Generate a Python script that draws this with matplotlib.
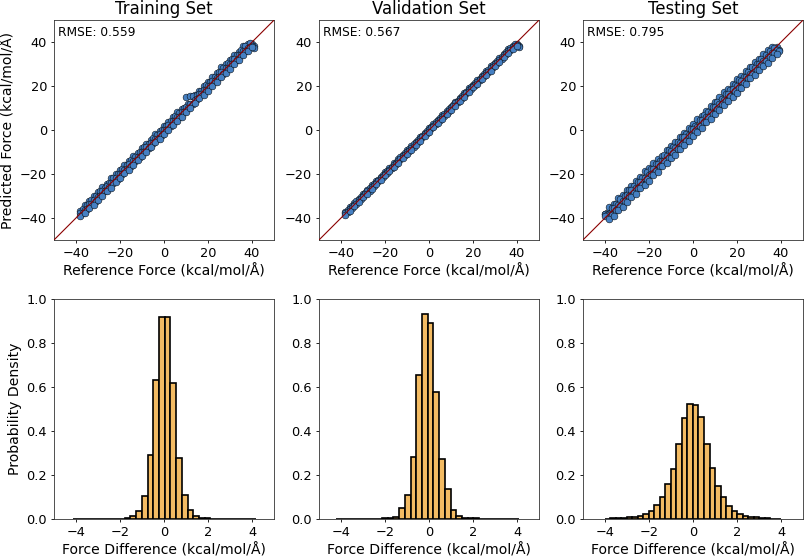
import numpy as np
import matplotlib
matplotlib.use("Agg")
import matplotlib.pyplot as plt

titles = ["Training Set", "Validation Set", "Testing Set"]
rmse = [0.559, 0.567, 0.795]

# reference forces (kcal/mol/A), even and odd grid
ref_even = [-38, -36, -34, -32, -30, -28, -26, -24, -22, -20,
            -18, -16, -14, -12, -10, -8, -6, -4, -2, 0,
            2, 4, 6, 8, 10, 12, 14, 16, 18, 20,
            22, 24, 26, 28, 30, 32, 34, 36, 38, 40]
ref_odd = [-37, -35, -33, -31, -29, -27, -25, -23, -21, -19,
           -17, -15, -13, -11, -9, -7, -5, -3, -1, 1,
           3, 5, 7, 9, 11, 13, 15, 17, 19, 21,
           23, 25, 27, 29, 31, 33, 35, 37, 39, 41]
test_even = [-40, -38, -36, -34, -32, -30, -28, -26, -24, -22,
             -20, -18, -16, -14, -12, -10, -8, -6, -4, -2,
             0, 2, 4, 6, 8, 10, 12, 14, 16, 18,
             20, 22, 24, 26, 28, 30, 32, 34, 36, 38]
test_odd = [-39, -37, -35, -33, -31, -29, -27, -25, -23, -21,
            -19, -17, -15, -13, -11, -9, -7, -5, -3, -1,
            1, 3, 5, 7, 9, 11, 13, 15, 17, 19,
            21, 23, 25, 27, 29, 31, 33, 35, 37, 39]

# residuals (predicted - reference)
train_e_hi = [1.2, 1.9, 1.5, 2.1, 1.7, 2.0, 1.4, 2.2, 1.8, 1.6,
              2.0, 1.7, 2.1, 1.5, 1.9, 1.8, 1.6, 2.0, 1.7, 1.9,
              1.5, 1.8, 2.1, 1.6, 4.8, 3.4, 2.0, 1.7, 2.2, 1.9,
              2.3, 2.0, 2.6, 2.1, 1.8, 2.2, 1.7, 2.0, 1.2, -0.8]
train_e_mid = [0.3, -0.2, 0.4, 0.1, -0.3, 0.2, 0.5, -0.1, 0.3, 0.0,
               -0.2, 0.4, 0.1, -0.3, 0.2, 0.3, -0.1, 0.0, 0.4, -0.2,
               0.1, 0.3, -0.2, 0.2, 0.5, 0.0, -0.3, 0.2, 0.4, 0.1,
               0.3, -0.2, 0.5, 0.1, -0.1, 0.3, 0.0, -0.2, -0.6, -1.6]
train_e_lo = [-1.3, -1.9, -1.5, -2.1, -1.7, -2.0, -1.6, -2.2, -1.8, -2.0,
              -1.7, -2.1, -1.8, -1.5, -2.0, -2.2, -1.8, -1.6, -2.1, -1.9,
              -1.8, -1.6, -2.0, -2.3, -1.7, -2.1, -1.9, -1.6, -2.0, -2.2,
              -1.8, -2.1, -1.7, -2.0, -2.3, -1.8, -2.1, -1.9, -2.2, -2.3]
train_o_hi = [1.0, 0.8, 1.2, 0.9, 1.1, 0.7, 1.0, 1.3, 0.8, 1.1,
              0.9, 1.2, 0.8, 1.0, 1.1, 0.7, 1.2, 0.9, 1.0, 0.8,
              1.1, 1.3, 0.9, 1.2, 1.0, 2.6, 1.1, 0.9, 1.3, 1.0,
              1.2, 1.4, 1.0, 1.3, 1.1, 0.9, 1.2, 1.0, 0.6, -3.0]
train_o_lo = [-0.9, -1.1, -0.8, -1.2, -1.0, -0.7, -1.1, -0.9, -1.3, -1.0,
              -0.8, -1.2, -0.9, -1.1, -1.0, -1.3, -0.8, -1.0, -1.2, -0.9,
              -1.1, -0.8, -1.2, -1.0, -0.9, -1.3, -1.1, -0.8, -1.0, -1.2,
              -0.9, -1.1, -1.3, -1.0, -0.8, -1.2, -1.0, -1.1, -1.4, -3.5]

val_e_hi = [0.7, 0.9, 0.6, 0.8, 1.0, 0.7, 0.9, 0.8, 0.6, 0.9,
            0.7, 0.8, 1.0, 0.6, 0.8, 0.9, 0.7, 0.8, 0.6, 0.9,
            0.8, 0.7, 1.0, 0.8, 0.6, 0.9, 0.7, 0.8, 1.0, 0.7,
            0.9, 0.6, 0.8, 0.9, 0.7, 0.8, 0.6, 0.7, 0.3, -0.8]
val_e_mid = [0.1, -0.1, 0.0, 0.2, -0.1, 0.1, 0.0, -0.2, 0.1, 0.0,
             -0.1, 0.1, 0.0, 0.1, -0.1, 0.0, 0.2, -0.1, 0.0, 0.1,
             -0.1, 0.0, 0.1, -0.1, 0.0, 0.2, -0.1, 0.0, 0.1, -0.1,
             0.0, 0.1, -0.1, 0.0, 0.1, -0.1, 0.0, -0.2, -0.4, -1.4]
val_e_lo = [-0.6, -0.8, -0.7, -0.9, -0.6, -1.3, -0.8, -0.7, -0.9, -0.6,
            -0.8, -0.7, -0.9, -0.6, -0.8, -1.0, -0.7, -0.8, -0.6, -0.9,
            -0.7, -0.8, -0.9, -0.6, -0.8, -1.0, -0.7, -0.9, -0.8, -0.6,
            -0.9, -0.7, -0.8, -1.0, -0.7, -0.9, -0.8, -1.0, -1.1, -1.9]
val_o_hi = [0.4, 0.3, 0.5, 0.4, 0.2, 0.5, 0.3, 0.4, 0.5, 0.3,
            0.4, 0.2, 0.5, 0.4, 0.3, 0.5, 0.4, 0.2, 0.4, 0.3,
            0.5, 0.4, 0.3, 0.5, 0.2, 0.4, 0.3, 0.5, 0.4, 0.3,
            0.4, 0.5, 0.3, 0.4, 0.2, 0.4, 0.3, 0.2, 0.0, -2.8]
val_o_lo = [-0.4, -0.3, -0.5, -0.4, -0.3, -0.6, -0.4, -0.3, -0.5, -0.4,
            -0.3, -0.5, -0.4, -0.2, -0.4, -0.5, -0.3, -0.4, -0.5, -0.3,
            -0.4, -0.3, -0.5, -0.4, -0.3, -0.4, -0.5, -0.3, -0.4, -0.5,
            -0.3, -0.4, -0.5, -0.3, -0.4, -0.5, -0.4, -0.5, -0.7, -3.2]

test_e_hi = [2.0, 2.8, 2.5, 3.1, 2.6, 2.9, 2.4, 3.0, 2.7, 3.2,
             2.5, 2.9, 2.7, 2.4, 3.1, 2.8, 2.6, 3.0, 2.5, 2.9,
             2.7, 3.1, 2.4, 2.8, 3.0, 2.6, 2.9, 3.2, 2.5, 2.8,
             3.1, 2.7, 3.0, 2.6, 2.9, 2.5, 2.8, 2.4, 1.8, -0.2]
test_e_mid = [1.6, -0.3, 0.6, 0.1, -0.4, 0.3, 0.7, -0.2, 0.4, 0.0,
              -0.5, 0.3, 0.6, -0.2, 0.1, 0.5, -0.4, 0.2, 0.6, -0.1,
              0.3, -0.5, 0.4, 0.1, -0.3, 0.6, 0.0, -0.4, 0.3, 0.5,
              -0.2, 0.4, 0.1, -0.5, 0.3, 0.0, -0.4, -0.8, -1.0, -1.8]
test_e_lo = [1.0, -2.6, -2.9, -2.3, -3.1, -2.7, -2.5, -3.0, -2.4, -2.8,
             -3.1, -2.6, -2.9, -2.4, -3.0, -2.7, -3.2, -2.5, -2.8, -3.1,
             -2.6, -2.9, -3.3, -2.5, -3.0, -2.7, -3.1, -2.8, -2.6, -3.0,
             -3.2, -2.7, -2.9, -2.5, -3.1, -2.8, -3.0, -3.3, -3.1, -3.4]
test_o_hi = [1.2, 1.6, 1.3, 1.8, 1.1, 1.5, 1.7, 1.2, 1.4, 1.9,
             1.3, 1.6, 1.1, 1.5, 1.8, 1.2, 1.4, 1.7, 1.3, 1.6,
             1.0, 1.5, 1.8, 1.2, 1.4, 1.7, 1.1, 1.6, 1.3, 1.5,
             1.8, 1.2, 1.4, 1.6, 1.1, 1.5, 1.3, 1.0, 0.2, -2.5]
test_o_lo = [0.5, -1.5, -1.2, -1.7, -1.4, -1.1, -1.6, -1.3, -1.8, -1.4,
             -1.2, -1.6, -1.5, -1.1, -1.7, -1.3, -1.5, -1.2, -1.8, -1.4,
             -1.6, -1.1, -1.5, -1.3, -1.7, -1.4, -1.2, -1.6, -1.5, -1.3,
             -1.7, -1.4, -1.2, -1.6, -1.5, -1.3, -1.7, -1.6, -2.0, -3.0]

# force difference histograms: first bin edge, bin width, densities
train_edge0, train_bw = -4.13, 0.26
train_dens = [0.0003, 0.0003, 0.0003, 0.0005, 0.0005, 0.0008, 0.001, 0.0015,
              0.002, 0.003, 0.012, 0.036, 0.103, 0.29, 0.63, 0.92,
              0.92, 0.62, 0.275, 0.11, 0.04, 0.015, 0.006, 0.003,
              0.002, 0.0015, 0.001, 0.0008, 0.0005, 0.0004, 0.0003, 0.0002]
val_edge0, val_bw = -4.22, 0.26
val_dens = [0.0, 0.0, 0.0, 0.0, 0.0, 0.0005, 0.001, 0.002,
            0.003, 0.006, 0.008, 0.05, 0.11, 0.28, 0.653, 0.93,
            0.89, 0.576, 0.274, 0.138, 0.04, 0.015, 0.006, 0.004,
            0.003, 0.002, 0.002, 0.001, 0.0005, 0.0, 0.0, 0.0]
test_edge0, test_bw = -4.0, 0.25
test_dens = [0.002, 0.003, 0.004, 0.005, 0.007, 0.009, 0.014, 0.021,
             0.036, 0.062, 0.102, 0.158, 0.229, 0.341, 0.458, 0.523,
             0.517, 0.465, 0.341, 0.232, 0.152, 0.102, 0.058, 0.036,
             0.021, 0.014, 0.009, 0.007, 0.005, 0.003, 0.002, 0.001]

scatter_sets = [
    [(ref_even, train_e_hi), (ref_odd, train_o_hi), (ref_even, train_e_mid),
     (ref_odd, train_o_lo), (ref_even, train_e_lo)],
    [(ref_even, val_e_hi), (ref_odd, val_o_hi), (ref_even, val_e_mid),
     (ref_odd, val_o_lo), (ref_even, val_e_lo)],
    [(test_even, test_e_hi), (test_odd, test_o_hi), (test_even, test_e_mid),
     (test_odd, test_o_lo), (test_even, test_e_lo)],
]
hist_sets = [
    (train_edge0, train_bw, train_dens),
    (val_edge0, val_bw, val_dens),
    (test_edge0, test_bw, test_dens),
]

# reference was drawn at a lower dpi, so shrink pads and ticks accordingly
plt.rcParams.update({
    "xtick.major.size": 2.5, "ytick.major.size": 2.5,
    "xtick.major.pad": 2.5, "ytick.major.pad": 2.5,
    "xtick.major.width": 0.6, "ytick.major.width": 0.6,
    "axes.linewidth": 0.6, "axes.labelpad": 2.9,
    "axes.edgecolor": "#333333",
})

fig = plt.figure(figsize=(8.06, 5.58), dpi=100)
lefts = [0.067, 0.3958, 0.7233]
w, h = 0.273, 0.394

for i in range(3):
    ax = fig.add_axes([lefts[i], 0.570, w, h])
    xs = np.concatenate([np.array(r, dtype=float) for r, d in scatter_sets[i]])
    ys = np.concatenate([np.array(r, dtype=float) + np.array(d) for r, d in scatter_sets[i]])
    ax.scatter(xs, ys, s=24, c="#4680c2", edgecolors="black", linewidths=0.35, zorder=2)
    ax.plot([-50, 50], [-50, 50], color="darkred", lw=0.8, zorder=3)
    ax.set_xlim(-50, 50)
    ax.set_ylim(-50, 50)
    ax.set_xticks([-40, -20, 0, 20, 40])
    ax.set_yticks([-40, -20, 0, 20, 40])
    ax.tick_params(labelsize=9.3)
    ax.set_title(titles[i], fontsize=11.9, pad=4.3)
    ax.set_xlabel("Reference Force (kcal/mol/Å)", fontsize=10.1)
    if i == 0:
        ax.set_ylabel("Predicted Force (kcal/mol/Å)", fontsize=10.1)
    ax.text(0.02, 0.975, f"RMSE: {rmse[i]:.3f}", transform=ax.transAxes,
            ha="left", va="top", fontsize=8.8)

    bx = fig.add_axes([lefts[i], 0.070, w, h])
    e0, bw, dens = hist_sets[i]
    edges = e0 + bw * np.arange(len(dens) + 1)
    centers = (edges[:-1] + edges[1:]) / 2
    bx.hist(centers, bins=edges, weights=dens, color="#f3bb63",
            edgecolor="black", linewidth=1.2)
    bx.set_xlim(-5, 5)
    bx.set_ylim(0, 1.0)
    bx.set_xticks([-4, -2, 0, 2, 4])
    bx.tick_params(labelsize=9.3)
    bx.set_xlabel("Force Difference (kcal/mol/Å)", fontsize=10.1)
    if i == 0:
        bx.set_ylabel("Probability Density", fontsize=10.1)

plt.savefig("out.png", dpi=100)
